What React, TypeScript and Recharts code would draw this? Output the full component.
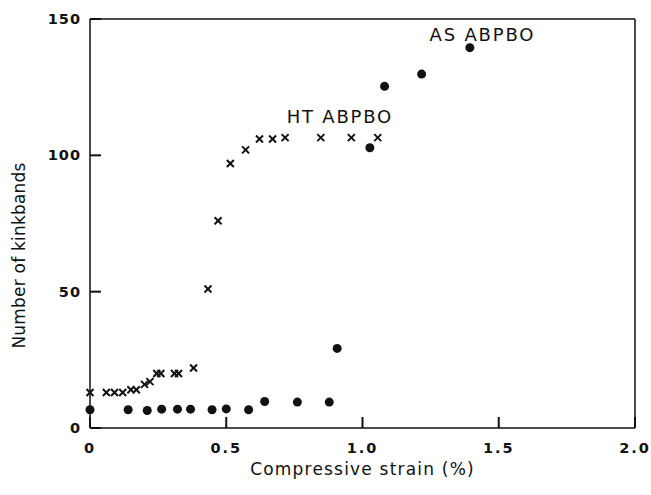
import React from 'react';
import { ScatterChart, Scatter, XAxis, YAxis, ReferenceLine, ReferenceDot, Label } from 'recharts';

// HT ABPBO (crosses)
const htStrain = [0, 0.06, 0.09, 0.12, 0.15, 0.17, 0.2, 0.22, 0.245, 0.26, 0.31, 0.325, 0.38, 0.433, 0.47, 0.515, 0.571, 0.622, 0.67, 0.716, 0.847, 0.959, 1.056];
const htCount = [13, 13, 13, 13, 14, 14, 16, 17, 20, 20, 20, 20, 22, 51, 76, 97, 102, 106, 106, 106.5, 106.5, 106.5, 106.5];

// AS ABPBO (dots)
const asStrain = [0, 0.14, 0.21, 0.263, 0.321, 0.369, 0.448, 0.5, 0.582, 0.641, 0.761, 0.878, 0.907, 1.027, 1.081, 1.217, 1.394];
const asCount = [6.7, 6.7, 6.4, 6.9, 6.9, 6.9, 6.7, 7, 6.7, 9.7, 9.5, 9.5, 29.2, 102.8, 125.3, 129.8, 139.5];

const xTicks = [0, 0.5, 1, 1.5, 2];
const yTicks = [0, 50, 100, 150];

const htData = htStrain.map((x, i) => ({ x, y: htCount[i] }));
const asData = asStrain.map((x, i) => ({ x, y: asCount[i] }));

const font = '"DejaVu Sans", sans-serif';
const ink = '#111';

// inward tick marks are drawn here, next to the numbers
const XTick = ({ x, y, payload }: any) => (
  <g>
    <line x1={x} x2={x} y1={y} y2={y - 11} stroke={ink} strokeWidth={2} />
    <text x={x} y={y + 25} textAnchor="middle" fontFamily={font} fontSize={14.5} fontWeight="bold" letterSpacing={2} fill={ink}>
      {payload.value === 0 ? '0' : payload.value.toFixed(1)}
    </text>
  </g>
);

const YTick = ({ x, y, payload }: any) => (
  <g>
    <line x1={x} x2={x + 11} y1={y} y2={y} stroke={ink} strokeWidth={2} />
    <text x={x - 9} y={y + 5} textAnchor="end" fontFamily={font} fontSize={14.5} fontWeight="bold" letterSpacing={1} fill={ink}>
      {payload.value}
    </text>
  </g>
);

const Cross = ({ cx, cy }: any) => (
  <g stroke={ink} strokeWidth={2}>
    <line x1={cx - 3.5} y1={cy - 3.5} x2={cx + 3.5} y2={cy + 3.5} />
    <line x1={cx - 3.5} y1={cy + 3.5} x2={cx + 3.5} y2={cy - 3.5} />
  </g>
);

const Dot = ({ cx, cy }: any) => <circle cx={cx} cy={cy} r={4.5} fill={ink} />;

const Note = ({ viewBox, value }: any) => (
  <text x={viewBox.x} y={viewBox.y + 6} textAnchor="middle" fontFamily={font} fontSize={18} letterSpacing={1.8} fill={ink}>
    {value}
  </text>
);

const XTitle = ({ viewBox }: any) => (
  <text x={viewBox.x + viewBox.width / 2} y={viewBox.y + 47} textAnchor="middle" fontFamily={font} fontSize={17} letterSpacing={1.2} fill={ink}>
    Compressive strain (%)
  </text>
);

const YTitle = ({ viewBox }: any) => {
  const cx = 19;
  const cy = viewBox.y + viewBox.height / 2 + 32;
  return (
    <text x={cx} y={cy} transform={`rotate(-90 ${cx} ${cy})`} textAnchor="middle" dominantBaseline="central" fontFamily={font} fontSize={17} letterSpacing={0.2} fill={ink}>
      Number of kinkbands
    </text>
  );
};

export default function App() {
  return (
    <div style={{ position: 'absolute', left: 0, top: 0, background: '#fff' }}>
      <ScatterChart width={651} height={495} margin={{ top: 19, right: 16, bottom: 0, left: 0 }}>
        <XAxis
          type="number"
          dataKey="x"
          domain={[0, 2]}
          ticks={xTicks}
          height={67}
          stroke={ink}
          strokeWidth={1.5}
          tickLine={false}
          tickSize={0}
          tickMargin={0}
          tick={<XTick />}
          interval={0}
        >
          <Label content={<XTitle />} />
        </XAxis>
        <YAxis
          type="number"
          dataKey="y"
          domain={[0, 150]}
          ticks={yTicks}
          width={90}
          stroke={ink}
          strokeWidth={1.5}
          tickLine={false}
          tickSize={0}
          tickMargin={0}
          tick={<YTick />}
          interval={0}
        >
          <Label content={<YTitle />} />
        </YAxis>
        <ReferenceLine y={150} stroke={ink} strokeWidth={1.5} />
        <ReferenceLine x={2} stroke={ink} strokeWidth={1.5} />
        <Scatter data={htData} shape={<Cross />} isAnimationActive={false} />
        <Scatter data={asData} shape={<Dot />} isAnimationActive={false} />
        <ReferenceDot x={1.44} y={144} r={0} stroke="none" label={<Note value="AS ABPBO" />} />
        <ReferenceDot x={0.917} y={114} r={0} stroke="none" label={<Note value="HT ABPBO" />} />
      </ScatterChart>
    </div>
  );
}
